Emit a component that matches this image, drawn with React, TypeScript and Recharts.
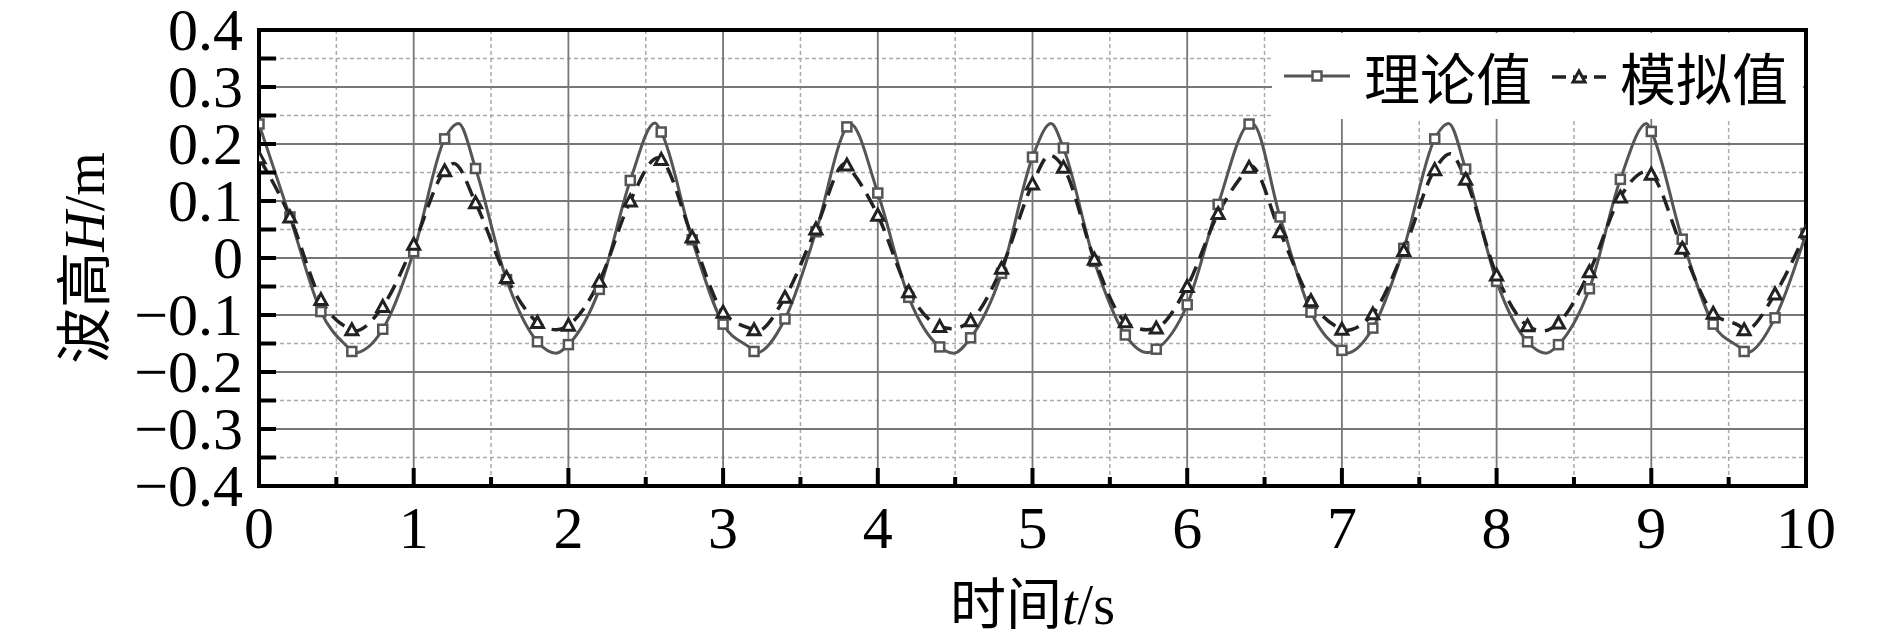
import React from "react";
import { LineChart, Line, XAxis, YAxis, CartesianGrid, Legend, ReferenceArea, Label } from "recharts";

// sample times (s) where markers are drawn
const times = [
  0, 0.2, 0.4, 0.6, 0.8, 1, 1.2, 1.4, 1.6, 1.8, 2, 2.2, 2.4, 2.6, 2.8, 3, 3.2, 3.4, 3.6, 3.8,
  4, 4.2, 4.4, 4.6, 4.8, 5, 5.2, 5.4, 5.6, 5.8, 6, 6.2, 6.4, 6.6, 6.8, 7, 7.2, 7.4, 7.6, 7.8,
  8, 8.2, 8.4, 8.6, 8.8, 9, 9.2, 9.4, 9.6, 9.8, 10,
];

// 理论值
const theory = [
  0.235, 0.072, -0.094, -0.164, -0.125, 0.011, 0.209, 0.157, -0.038, -0.147, -0.152, -0.055, 0.136,
  0.221, 0.032, -0.116, -0.164, -0.107, 0.046, 0.23, 0.114, -0.069, -0.156, -0.14, -0.027, 0.177,
  0.193, -0.006, -0.135, -0.16, -0.082, 0.094, 0.235, 0.072, -0.095, -0.162, -0.123, 0.017, 0.209,
  0.156, -0.041, -0.147, -0.152, -0.054, 0.138, 0.222, 0.033, -0.116, -0.164, -0.105, 0.043,
];

// 模拟值
const simulated = [
  0.176, 0.072, -0.073, -0.126, -0.085, 0.024, 0.153, 0.097, -0.034, -0.113, -0.118, -0.041, 0.1,
  0.173, 0.037, -0.095, -0.126, -0.069, 0.051, 0.163, 0.075, -0.059, -0.12, -0.11, -0.018, 0.13,
  0.159, -0.002, -0.112, -0.123, -0.05, 0.078, 0.159, 0.046, -0.075, -0.125, -0.098, 0.013, 0.155,
  0.138, -0.03, -0.119, -0.114, -0.024, 0.107, 0.147, 0.017, -0.097, -0.126, -0.063, 0.046,
];

// crests and troughs of the curves between the markers
const theoryPeakT = [1.29, 2.56, 3.82, 5.12, 6.42, 7.69, 8.97];
const theoryPeakV = [0.236, 0.237, 0.236, 0.236, 0.236, 0.236, 0.236];
const theoryTroughT = [0.61, 1.92, 3.21, 4.49, 5.74, 7.03, 8.32, 9.61];
const theoryTroughV = [-0.167, -0.167, -0.167, -0.167, -0.166, -0.167, -0.167, -0.167];
const simPeakT = [1.26, 2.58, 3.79, 5.11, 6.41, 7.7, 8.97];
const simPeakV = [0.166, 0.176, 0.166, 0.18, 0.162, 0.183, 0.152];
const simTroughT = [0.62, 1.92, 3.22, 4.48, 5.74, 7.02, 8.3, 9.6];
const simTroughV = [-0.128, -0.126, -0.128, -0.124, -0.126, -0.127, -0.128, -0.128];

const xTicks = [0, 0.5, 1, 1.5, 2, 2.5, 3, 3.5, 4, 4.5, 5, 5.5, 6, 6.5, 7, 7.5, 8, 8.5, 9, 9.5, 10];
const yTicks = [
  -0.4, -0.35, -0.3, -0.25, -0.2, -0.15, -0.1, -0.05, 0, 0.05, 0.1, 0.15, 0.2, 0.25, 0.3, 0.35, 0.4,
];
const xMajor = [1, 2, 3, 4, 5, 6, 7, 8, 9];
const xMinor = [0.5, 1.5, 2.5, 3.5, 4.5, 5.5, 6.5, 7.5, 8.5, 9.5];
const yMajor = [-0.3, -0.2, -0.1, 0, 0.1, 0.2, 0.3];
const yMinor = [-0.35, -0.25, -0.15, -0.05, 0.05, 0.15, 0.25, 0.35];

const pts = (ts: number[], vs: number[]) => ts.map((t, i) => ({ t, v: vs[i] }));
const theoryMarks = pts(times, theory);
const simMarks = pts(times, simulated);
const theoryCurve = [...theoryMarks, ...pts(theoryPeakT, theoryPeakV), ...pts(theoryTroughT, theoryTroughV)].sort((a, b) => a.t - b.t);
const simCurve = [...simMarks, ...pts(simPeakT, simPeakV), ...pts(simTroughT, simTroughV)].sort((a, b) => a.t - b.t);

const SERIF = "'Liberation Serif', 'Times New Roman', 'Noto Sans CJK SC', serif";
const CJK = "'Noto Sans CJK SC', 'Liberation Serif', serif";
const GRAY = "#555";
const DARK = "#222";

const isWhole = (v: number, step: number) => Math.abs(Math.round(v / step) * step - v) < 1e-6;
const fmtY = (v: number) => (Math.abs(v) < 1e-9 ? "0" : v < 0 ? "\u2212" + Math.abs(v).toFixed(1) : v.toFixed(1));

const YTick = (props: any) => {
  const { x, y, payload } = props;
  const v = payload.value;
  return (
    <g>
      <line x1={x} x2={x + 17} y1={y} y2={y} stroke="#000" strokeWidth={4} />
      {isWhole(v, 0.1) && (
        <text x={x - 16} y={y} dy={20} textAnchor="end" fontFamily={SERIF} fontSize={60} fill="#000">
          {fmtY(v)}
        </text>
      )}
    </g>
  );
};

const XTick = (props: any) => {
  const { x, y, payload } = props;
  const v = payload.value;
  const major = isWhole(v, 1);
  return (
    <g>
      <line x1={x} x2={x} y1={y} y2={y - (major ? 18 : 9)} stroke="#000" strokeWidth={4} />
      {major && (
        <text x={x} y={y} dy={62} textAnchor="middle" fontFamily={SERIF} fontSize={60} fill="#000">
          {v}
        </text>
      )}
    </g>
  );
};

const SquareDot = (p: any) => (
  <rect key={`s${p.index}`} x={p.cx - 4.5} y={p.cy - 4.5} width={9} height={9} fill="#fff" stroke={GRAY} strokeWidth={2.5} />
);
const TriDot = (p: any) => (
  <path
    key={`t${p.index}`}
    d={`M${p.cx},${p.cy - 6} L${p.cx + 6},${p.cy + 5} L${p.cx - 6},${p.cy + 5} Z`}
    fill="#fff"
    stroke={DARK}
    strokeWidth={3}
    strokeLinejoin="miter"
  />
);

const LegendBox = () => (
  <div style={{ display: "flex", alignItems: "center", height: "100%", fontFamily: CJK, fontSize: 56, color: "#000", lineHeight: 1 }}>
    <svg width={66} height={20} style={{ marginLeft: 12 }}>
      <line x1={0} x2={66} y1={10} y2={10} stroke={GRAY} strokeWidth={3} />
      <rect x={28.5} y={5.5} width={9} height={9} fill="#fff" stroke={GRAY} strokeWidth={2.5} />
    </svg>
    <span style={{ marginLeft: 14 }}>理论值</span>
    <svg width={54} height={20} style={{ marginLeft: 20 }}>
      <line x1={0} x2={54} y1={11} y2={11} stroke={DARK} strokeWidth={3.5} strokeDasharray="14 7" />
      <path d="M27,5 L33,16 L21,16 Z" fill="#fff" stroke={DARK} strokeWidth={3} />
    </svg>
    <span style={{ marginLeft: 14 }}>模拟值</span>
  </div>
);

export default function App() {
  return (
    <div style={{ position: "absolute", left: 0, top: 0, background: "#fff" }}>
      <LineChart width={1890} height={643} margin={{ top: 30, right: 84, bottom: 0, left: 59 }}>
        <CartesianGrid horizontalValues={yMinor} verticalValues={xMinor} stroke="#aaa" strokeWidth={1.5} strokeDasharray="4 3" />
        <CartesianGrid horizontalValues={yMajor} verticalValues={xMajor} stroke="#777" strokeWidth={1.8} />
        <XAxis
          dataKey="t"
          type="number"
          domain={[0, 10]}
          ticks={xTicks}
          interval={0}
          height={157}
          tickSize={0}
          tickMargin={0}
          axisLine={false}
          tickLine={false}
          tick={XTick}
          allowDataOverflow
        >
          <Label
            content={(p: any) => {
              const vb = p.viewBox;
              return (
                <text x={vb.x + vb.width / 2} y={vb.y + 138} textAnchor="middle" fontFamily={CJK} fontSize={56} fill="#000">
                  时间<tspan fontFamily={SERIF} fontStyle="italic">t</tspan>
                  <tspan fontFamily={SERIF}>/s</tspan>
                </text>
              );
            }}
          />
        </XAxis>
        <YAxis
          type="number"
          domain={[-0.4, 0.4]}
          ticks={yTicks}
          interval={0}
          width={200}
          tickSize={0}
          tickMargin={0}
          axisLine={false}
          tickLine={false}
          tick={YTick}
          allowDataOverflow
        >
          <Label
            content={(p: any) => {
              const vb = p.viewBox;
              const cx = vb.x + vb.width - 175;
              const cy = vb.y + vb.height / 2;
              return (
                <text transform={`translate(${cx},${cy}) rotate(-90)`} dy={20} textAnchor="middle" fontFamily={CJK} fontSize={56} fill="#000">
                  波高<tspan fontFamily={SERIF} fontStyle="italic">H</tspan>
                  <tspan fontFamily={SERIF}>/m</tspan>
                </text>
              );
            }}
          />
        </YAxis>
        <Line data={theoryCurve} dataKey="v" type="monotone" stroke={GRAY} strokeWidth={3} dot={false} activeDot={false} isAnimationActive={false} legendType="none" />
        <Line data={simCurve} dataKey="v" type="monotone" stroke={DARK} strokeWidth={3.5} strokeDasharray="16 9" dot={false} activeDot={false} isAnimationActive={false} legendType="none" />
        <Line data={theoryMarks} dataKey="v" stroke="none" dot={SquareDot} activeDot={false} isAnimationActive={false} legendType="none" />
        <Line data={simMarks} dataKey="v" stroke="none" dot={TriDot} activeDot={false} isAnimationActive={false} legendType="none" />
        <ReferenceArea x1={0} x2={10} y1={-0.4} y2={0.4} fill="none" stroke="#000" strokeWidth={4} ifOverflow="visible" />
        <Legend
          layout="horizontal"
          verticalAlign="middle"
          align="center"
          content={<LegendBox />}
          wrapperStyle={{ position: "absolute", left: 1272, top: 33, width: 531, height: 86, background: "#fff" }}
        />
      </LineChart>
    </div>
  );
}
